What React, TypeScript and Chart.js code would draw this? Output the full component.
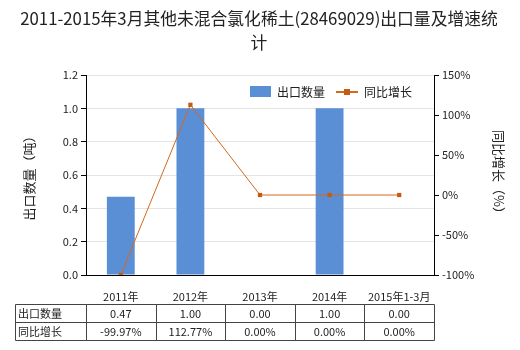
import React, { useEffect, useRef } from "react";
import { Chart, registerables } from "chart.js";

Chart.register(...registerables);

const categories = ["2011年", "2012年", "2013年", "2014年", "2015年1-3月"];
const exportQty = [0.47, 1.0, 0.0, 1.0, 0.0];
const growthPct = [-99.97, 112.77, 0.0, 0.0, 0.0];
const qtyLabels = ["0.47", "1.00", "0.00", "1.00", "0.00"];
const growthLabels = ["-99.97%", "112.77%", "0.00%", "0.00%", "0.00%"];
const titleLines = ["2011-2015年3月其他未混合氯化稀土(28469029)出口量及增速统", "计"];
const seriesNames = ["出口数量", "同比增长"];
const leftAxisTitle = "出口数量（吨）";
const rightAxisTitle = "同比增长（%）";

const FONT = "'Noto Sans CJK SC', 'Noto Sans', sans-serif";
const BAR_COLOR = "#5a8fd6";
const LINE_COLOR = "#d2691e";
const POINT_COLOR = "#c55a11";

const overlayPlugin = {
  id: "overlay",
  afterDraw(chart: any) {
    const ctx = chart.ctx;
    const x = chart.scales.x;
    const area = chart.chartArea;
    ctx.save();
    // title
    ctx.fillStyle = "#222";
    ctx.font = `16.8px ${FONT}`;
    ctx.textAlign = "center";
    ctx.textBaseline = "middle";
    ctx.fillText(titleLines[0], 259, 19);
    ctx.fillText(titleLines[1], 259, 43);

    // legend
    ctx.font = `12px ${FONT}`;
    ctx.textAlign = "left";
    ctx.fillStyle = BAR_COLOR;
    ctx.fillRect(250, 86, 21, 11);
    ctx.fillStyle = "#222";
    ctx.fillText(seriesNames[0], 277, 92);
    ctx.strokeStyle = LINE_COLOR;
    ctx.lineWidth = 2;
    ctx.beginPath();
    ctx.moveTo(336, 92);
    ctx.lineTo(358, 92);
    ctx.stroke();
    ctx.fillStyle = POINT_COLOR;
    ctx.fillRect(344, 89, 6, 6);
    ctx.fillStyle = "#222";
    ctx.fillText(seriesNames[1], 364, 92);

    // table
    const n = categories.length;
    const half = (x.getPixelForValue(1) - x.getPixelForValue(0)) / 2;
    const left = 15.5;
    const bounds: number[] = [left];
    for (let i = 0; i < n; i++) bounds.push(Math.round(x.getPixelForValue(i) - half) + 0.5);
    bounds.push(Math.round(area.right) + 0.5);
    const rows = [304.5, 322.5, 340.5];
    ctx.strokeStyle = "#444";
    ctx.lineWidth = 1;
    ctx.beginPath();
    for (const r of rows) {
      ctx.moveTo(left, r);
      ctx.lineTo(bounds[bounds.length - 1], r);
    }
    for (const b of bounds) {
      ctx.moveTo(b, rows[0]);
      ctx.lineTo(b, rows[2]);
    }
    ctx.stroke();
    ctx.font = `11px ${FONT}`;
    ctx.fillStyle = "#222";
    ctx.textAlign = "left";
    ctx.fillText(seriesNames[0], 18, 313.5);
    ctx.fillText(seriesNames[1], 18, 331.5);
    ctx.textAlign = "center";
    for (let i = 0; i < n; i++) {
      const cx = x.getPixelForValue(i);
      ctx.fillText(qtyLabels[i], cx, 313.5);
      ctx.fillText(growthLabels[i], cx, 331.5);
    }
    ctx.restore();
  },
};

export default function App() {
  const ref = useRef<HTMLCanvasElement>(null);
  useEffect(() => {
    if (!ref.current) return;
    const chart = new Chart(ref.current, {
      type: "bar",
      data: {
        labels: categories,
        datasets: [
          {
            type: "line",
            label: seriesNames[1],
            data: growthPct,
            yAxisID: "y1",
            borderColor: LINE_COLOR,
            borderWidth: 1,
            pointStyle: "rect",
            pointRadius: 3,
            pointBackgroundColor: POINT_COLOR,
            pointBorderColor: POINT_COLOR,
            pointBorderWidth: 0,
            order: 0,
          } as any,
          {
            type: "bar",
            label: seriesNames[0],
            data: exportQty,
            yAxisID: "y",
            backgroundColor: BAR_COLOR,
            barPercentage: 0.4,
            categoryPercentage: 1,
            order: 1,
          },
        ],
      },
      options: {
        responsive: false,
        animation: false,
        layout: { padding: { top: 75, left: 0, right: 0, bottom: 0 } },
        plugins: {
          legend: { display: false },
          title: { display: false },
          tooltip: { enabled: false },
        },
        scales: {
          x: {
            grid: { display: false },
            border: { color: "#000", width: 1 },
            ticks: { color: "#222", font: { size: 11, family: FONT }, padding: 7, maxRotation: 0 },
            afterFit(s: any) {
              s.height = 75;
            },
          },
          y: {
            position: "left",
            min: 0,
            max: 1.2,
            ticks: {
              stepSize: 0.2,
              color: "#222",
              font: { size: 11, family: FONT },
              padding: 3,
              callback: (v: any) => Number(v).toFixed(1),
            },
            grid: { color: "#e4e4e4", tickColor: "#000", tickLength: 5 },
            border: { color: "#000", width: 1 },
            title: {
              display: true,
              text: leftAxisTitle,
              color: "#222",
              font: { size: 13, family: FONT },
              padding: { top: 21, bottom: 0 },
            },
            afterFit(s: any) {
              s.width = 86;
            },
          },
          y1: {
            position: "right",
            min: -100,
            max: 150,
            ticks: {
              stepSize: 50,
              color: "#222",
              font: { size: 11, family: FONT },
              padding: 3,
              callback: (v: any) => `${v}%`,
            },
            grid: { drawOnChartArea: false, tickColor: "#000", tickLength: 5 },
            border: { color: "#000", width: 1 },
            title: {
              display: true,
              text: rightAxisTitle,
              color: "#222",
              font: { size: 13, family: FONT },
              padding: { top: 13, bottom: 0 },
            },
            afterFit(s: any) {
              s.width = 86;
            },
          },
        },
      },
      plugins: [overlayPlugin],
    });
    return () => chart.destroy();
  }, []);
  return (
    <div style={{ position: "fixed", left: 0, top: 0, width: 520, height: 350, background: "#fff" }}>
      <canvas ref={ref} width={520} height={350} style={{ width: 520, height: 350 }} />
    </div>
  );
}
